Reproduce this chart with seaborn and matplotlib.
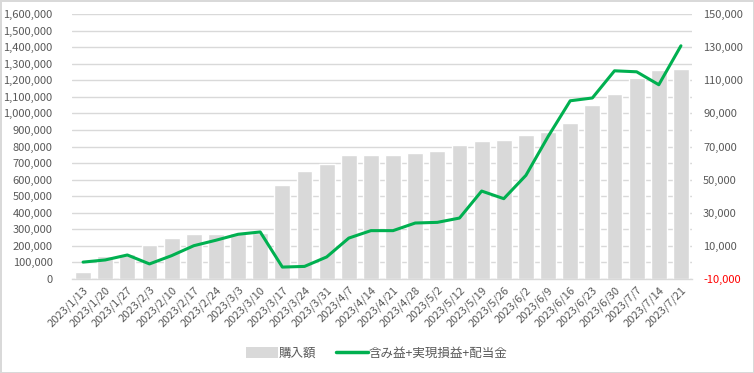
import matplotlib
matplotlib.use("Agg")
import matplotlib.pyplot as plt
import seaborn as sns
import numpy as np
import pandas as pd
from matplotlib.patches import Patch
from matplotlib.lines import Line2D
from matplotlib.ticker import FuncFormatter, FixedLocator

dates = ["2023/1/13", "2023/1/20", "2023/1/27", "2023/2/3", "2023/2/10", "2023/2/17",
         "2023/2/24", "2023/3/3", "2023/3/10", "2023/3/17", "2023/3/24", "2023/3/31",
         "2023/4/7", "2023/4/14", "2023/4/21", "2023/4/28", "2023/5/2", "2023/5/12",
         "2023/5/19", "2023/5/26", "2023/6/2", "2023/6/9", "2023/6/16", "2023/6/23",
         "2023/6/30", "2023/7/7", "2023/7/14", "2023/7/21"]
purchase = [42000, 141000, 153000, 207000, 250000, 274000, 274000, 278000, 278000,
            569000, 654000, 692000, 746000, 746000, 746000, 762000, 774000, 811000,
            835000, 841000, 871000, 887000, 944000, 1052000, 1119000, 1215000,
            1264000, 1270000]
profit = [200, 1500, 4500, -900, 4100, 10100, 13400, 17000, 18400, -2800, -2400,
          3300, 14700, 19200, 19200, 23800, 24200, 26800, 43100, 38500, 52600,
          76000, 97600, 99300, 115700, 115100, 107300, 130800]
bar_label = "購入額"
line_label = "含み益+実現損益+配当金"

left_ticks = list(range(0, 1600001, 100000))
right_ticks = list(range(-10000, 150001, 20000))

sns.set_theme(style="white")
plt.rcParams['font.family'] = ['Noto Sans CJK JP', 'DejaVu Sans']

TXT = "#595959"
GRID = "#d9d9d9"
BAR = "#d9d9d9"
GREEN = "#00b050"
FS = 8

df = pd.DataFrame({"date": dates, "purchase": purchase, "profit": profit,
                   "idx": np.arange(len(dates))})

fig = plt.figure(figsize=(7.54, 3.73), dpi=100)
fig.patch.set_facecolor("white")
fig.patch.set_edgecolor(GRID)
fig.patch.set_linewidth(1.0)
ax = fig.add_axes([72/754, 1-279/373, 620/754, 265/373])

sns.barplot(data=df, x="date", y="purchase", color=BAR, saturation=1, width=0.71,
            ax=ax, zorder=2)
ax.set_ylim(0, 1600000)
ax.set_xlim(-0.5, len(dates)-0.5)
ax.yaxis.set_major_locator(FixedLocator(left_ticks))
ax.yaxis.set_major_formatter(FuncFormatter(lambda v, p: f"{int(v):,}"))
ax.grid(axis="y", color=GRID, linewidth=1, zorder=0)
ax.set_axisbelow(True)
for s in ["top", "right", "left"]:
    ax.spines[s].set_visible(False)
ax.spines["bottom"].set_color(GRID)
ax.spines["bottom"].set_linewidth(1)
ax.set_xlabel("")
ax.set_ylabel("")
ax.tick_params(axis="y", length=0, labelsize=FS, labelcolor=TXT, pad=14)
ax.tick_params(axis="x", which="major", length=0, labelsize=FS, labelcolor=TXT, pad=4)
ax.set_xticks(range(len(dates)))
ax.set_xticklabels(dates, rotation=45, ha="right", rotation_mode="anchor")
ax.set_xticks(np.arange(-0.5, len(dates), 1), minor=True)
ax.tick_params(axis="x", which="minor", length=4, color=GRID, width=1, direction="out")

ax2 = ax.twinx()
sns.lineplot(data=df, x="idx", y="profit", color=GREEN, linewidth=2.2, ax=ax2, zorder=3)
ax2.set_ylim(-10000, 150000)
ax2.set_xlim(-0.5, len(dates)-0.5)
ax2.yaxis.set_major_locator(FixedLocator(right_ticks))
ax2.yaxis.set_major_formatter(FuncFormatter(lambda v, p: f"{int(v):,}"))
ax2.tick_params(axis="y", length=0, labelsize=FS, labelcolor=TXT, pad=8)
for lbl, v in zip(ax2.get_yticklabels(), right_ticks):
    if v < 0:
        lbl.set_color("#ff0000")
for s in ["top", "right", "left", "bottom"]:
    ax2.spines[s].set_visible(False)
ax2.set_xlabel("")
ax2.set_ylabel("")
ax2.grid(False)

handles = [Patch(facecolor=BAR, edgecolor="none", label=bar_label),
           Line2D([0], [0], color=GREEN, linewidth=2.5, label=line_label)]
fig.legend(handles=handles, loc="center", bbox_to_anchor=(0.5, 1-353/373), ncol=2,
           frameon=False, fontsize=9, labelcolor=TXT, handlelength=2.5,
           handleheight=1.0, handletextpad=0.1, columnspacing=1.6)

fig.savefig("out.png", dpi=100, facecolor="white", edgecolor=GRID)
